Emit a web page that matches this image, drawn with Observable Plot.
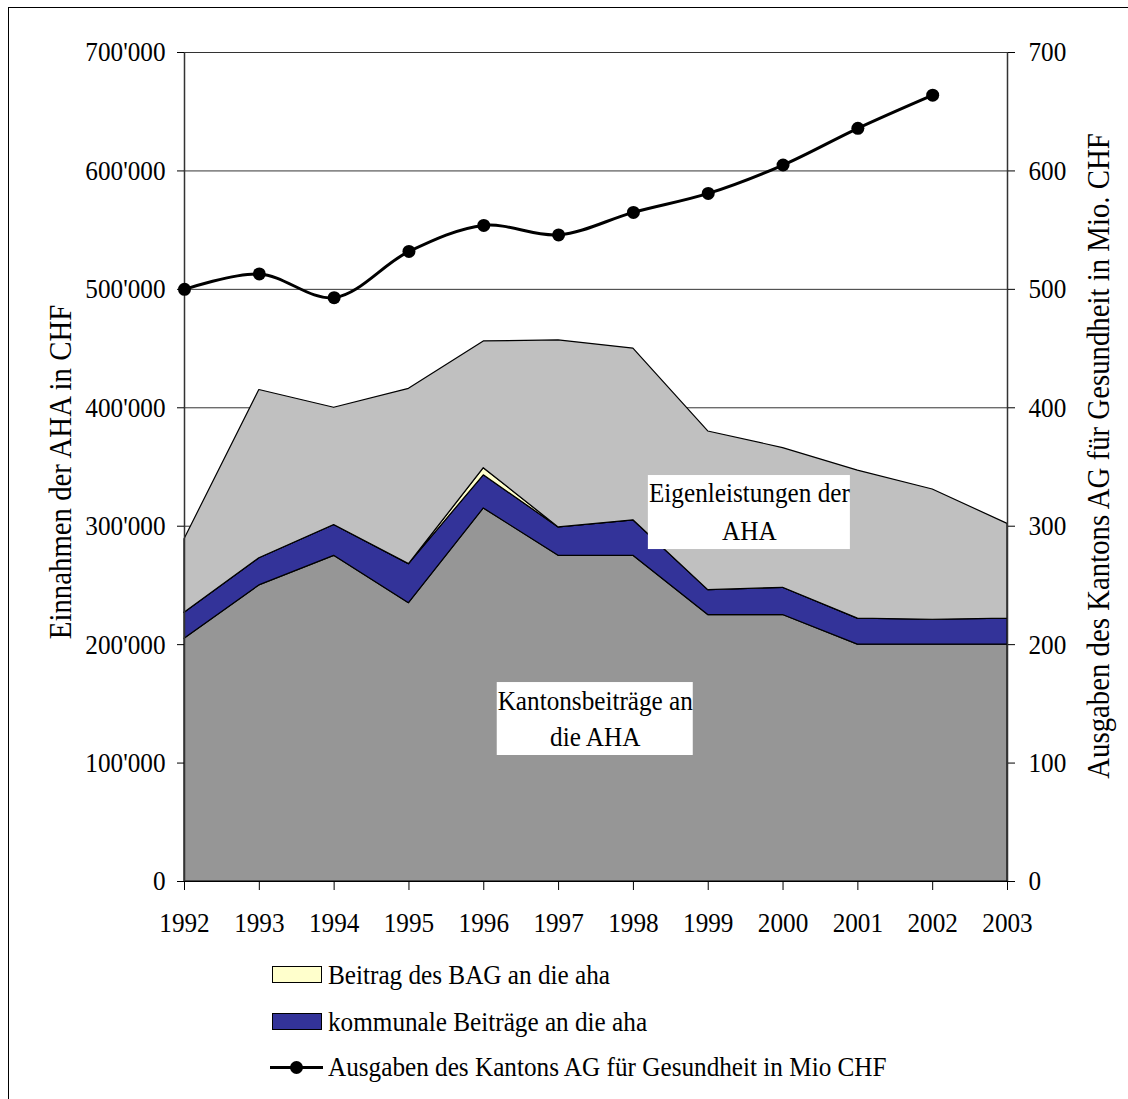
<!DOCTYPE html>
<html><head><meta charset="utf-8">
<script src="https://cdn.jsdelivr.net/npm/d3@7"></script>
<script src="https://cdn.jsdelivr.net/npm/@observablehq/plot@0.6"></script>
<style>
body{margin:0;background:#fff;}
#wrap{position:relative;width:1128px;height:1099px;overflow:hidden;font-family:"Liberation Serif","Times New Roman",serif;}
#frame{position:absolute;left:8px;top:7px;width:1300px;height:1300px;border-left:1px solid #000;border-top:1px solid #000;}
#chart{position:absolute;left:0;top:0;}
.legrow{position:absolute;left:0;height:30px;width:900px;}
.legtxt{position:absolute;left:328px;top:0;font-size:28px;line-height:28px;white-space:nowrap;transform:scaleX(0.9);transform-origin:left center;}
.sw{position:absolute;left:272px;width:50px;height:17px;border:1px solid #000;box-sizing:border-box;}
</style></head>
<body><div id="wrap"><div id="frame"></div><div id="chart"></div><div id="legend"></div></div>
<script>
// ---- data ----
const years = [1992,1993,1994,1995,1996,1997,1998,1999,2000,2001,2002,2003];
const kantonsbeitraege = [205000,250000,275000,235000,315000,275000,275000,225000,225000,200000,200000,200000];
const kommunaleBeitraege = [22000,23000,26000,33000,28000,24000,30000,21000,23000,22000,21000,22000];
const bagBeitrag = [0,0,0,0,6000,0,0,0,0,0,0,0];
const eigenleistungen = [62000,142000,99000,148000,107000,158000,145000,134000,118000,125000,110000,80000];
const ausgabenYears = [1992,1993,1994,1995,1996,1997,1998,1999,2000,2001,2002];
const ausgabenMio = [500,513,493,532,554,546,565,581,605,636,664];
const seriesNames = ["Kantonsbeiträge an die AHA","kommunale Beiträge an die aha","Beitrag des BAG an die aha","Eigenleistungen der AHA"];
const seriesColors = ["#969696","#333399","#FFFFCC","#C0C0C0"];
const yTicks = [0,100000,200000,300000,400000,500000,600000,700000];
const leftTitle = "Einnahmen der AHA in CHF";
const rightTitle = "Ausgaben des Kantons AG für Gesundheit in Mio. CHF";
const legendLabels = ["Beitrag des BAG an die aha","kommunale Beiträge an die aha","Ausgaben des Kantons AG für Gesundheit in Mio CHF"];
// annotation labels (white boxes inside the areas)
const annBoxes = [
  {x1:1998.20, x2:2000.90, y1:280300, y2:342800},
  {x1:1996.18, x2:1998.80, y1:106400, y2:168000}
];
const annLines = [
  {x:1999.55, y:320500, text:"Eigenleistungen der"},
  {x:1999.55, y:288000, text:"AHA"},
  {x:1997.49, y:144400, text:"Kantonsbeiträge an"},
  {x:1997.49, y:114800, text:"die AHA"}
];

// ---- build ----
const seriesValues = [kantonsbeitraege, kommunaleBeitraege, bagBeitrag, eigenleistungen];
const areaData = seriesNames.flatMap((name, s) => years.map((yr, i) => ({year: yr, series: name, value: seriesValues[s][i]})));
const lineData = ausgabenYears.map((yr, i) => ({year: yr, value: ausgabenMio[i]}));
const fmt = d => d3.format(",")(d).replace(/,/g, "'");
const FONT = "Liberation Serif";

const plot = Plot.plot({
  width: 1128, height: 950,
  marginLeft: 184, marginRight: 121, marginTop: 52, marginBottom: 69,
  style: {fontFamily: FONT, fontSize: "28px", background: "transparent", color: "#000", overflow: "visible"},
  x: {type: "linear", domain: [1992, 2003]},
  y: {domain: [0, 700000]},
  color: {domain: seriesNames, range: seriesColors},
  marks: [
    Plot.ruleY(yTicks.slice(1), {stroke: "#000", strokeOpacity: 0.8}),
    Plot.areaY(areaData, {x: "year", y: "value", z: "series", fill: "series", order: seriesNames, stroke: "#000", strokeWidth: 1.2}),
    Plot.rect(annBoxes, {x1: "x1", x2: "x2", y1: "y1", y2: "y2", fill: "white"}),
    Plot.text(annLines, {x: "x", y: "y", text: "text", lineAnchor: "bottom", fontSize: 28, fill: "#000"}),
    Plot.ruleX([1992], {stroke: "#333", strokeWidth: 1.5}),
    Plot.ruleX([2003], {stroke: "#333", strokeWidth: 1.5}),
    Plot.ruleY([0], {stroke: "#000", strokeWidth: 1.2}),
    Plot.line(lineData, {x: "year", y: d => d.value * 1000, curve: "catmull-rom", stroke: "#000", strokeWidth: 3}),
    Plot.dot(lineData, {x: "year", y: d => d.value * 1000, r: 6.5, fill: "#000"}),
    Plot.axisX({ticks: years, tickFormat: d => String(d), tickSize: 9, tickPadding: 22, fontSize: 28, label: null}),
    Plot.axisY({anchor: "left", ticks: yTicks, tickFormat: fmt, tickSize: 7, tickPadding: 12, fontSize: 28, label: null}),
    Plot.axisY({anchor: "right", ticks: yTicks, tickFormat: d => String(d / 1000), tickSize: 7, tickPadding: 14, fontSize: 28, label: null}),
    Plot.text([leftTitle], {text: d => d, frameAnchor: "left", textAnchor: "middle", rotate: -90, dx: -114, dy: 5, lineAnchor: "bottom", fontSize: 32}),
    Plot.text([rightTitle], {text: d => d, frameAnchor: "right", textAnchor: "middle", rotate: -90, dx: 101, dy: -11, lineAnchor: "bottom", fontSize: 32})
  ]
});
document.getElementById("chart").appendChild(plot);

// condense glyphs horizontally like the original rendering
plot.querySelectorAll("text").forEach(t => {
  const tsp = t.querySelectorAll("tspan");
  const els = tsp.length ? Array.from(tsp) : [t];
  els.forEach(e => {
    const L = e.getComputedTextLength();
    if (L > 0) { e.setAttribute("textLength", (L * 0.9).toFixed(2)); e.setAttribute("lengthAdjust", "spacingAndGlyphs"); }
  });
});

// ---- legend ----
const legend = document.getElementById("legend");
const rowCenters = [975, 1022, 1067];
legendLabels.forEach((lab, i) => {
  const row = document.createElement("div");
  row.className = "legrow";
  row.style.top = (rowCenters[i] - 15) + "px";
  if (i < 2) {
    const sw = document.createElement("div");
    sw.className = "sw";
    sw.style.top = "6px";
    sw.style.background = i === 0 ? seriesColors[2] : seriesColors[1];
    row.appendChild(sw);
  } else {
    const ln = document.createElement("div");
    ln.style.cssText = "position:absolute;left:270px;top:13.5px;width:53px;height:3px;background:#000;";
    const dt = document.createElement("div");
    dt.style.cssText = "position:absolute;left:290px;top:8.5px;width:13px;height:13px;border-radius:50%;background:#000;";
    row.appendChild(ln); row.appendChild(dt);
  }
  const tx = document.createElement("div");
  tx.className = "legtxt";
  tx.style.top = "1px";
  tx.textContent = lab;
  row.appendChild(tx);
  legend.appendChild(row);
});
</script>
</body></html>
